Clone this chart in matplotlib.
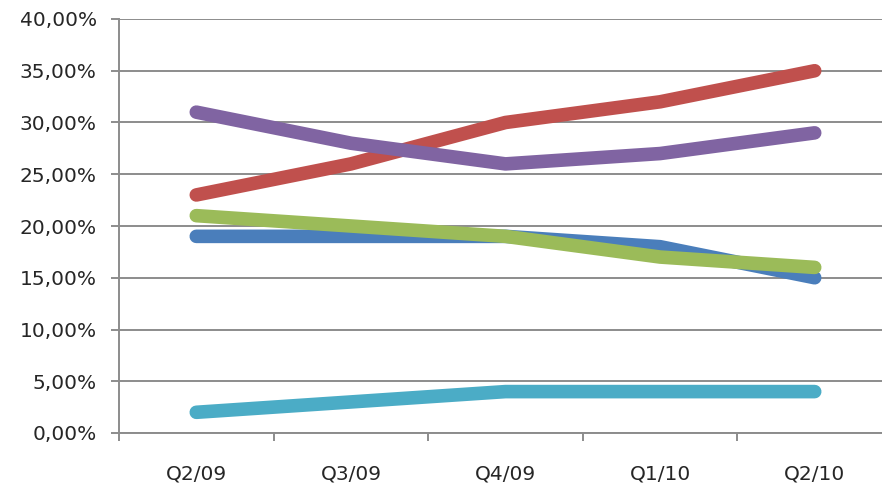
import numpy as np
import matplotlib
matplotlib.use("Agg")
import matplotlib.pyplot as plt
from matplotlib.ticker import FixedLocator, FuncFormatter

# quarters and series values (share, %)
quarters = ["Q2/09", "Q3/09", "Q4/09", "Q1/10", "Q2/10"]
blue = [19, 19, 19, 18, 15]
red = [23, 26, 30, 32, 35]
green = [21, 20, 19, 17, 16]
purple = [31, 28, 26, 27, 29]
cyan = [2, 3, 4, 4, 4]

series = [
    (blue, "#4a7ebb"),
    (red, "#c0504d"),
    (green, "#9bbb59"),
    (purple, "#8064a2"),
    (cyan, "#4bacc6"),
]

W, H = 882, 487
fig = plt.figure(figsize=(W / 100, H / 100), dpi=100)
ax = fig.add_axes([119 / W, (H - 433) / H, 773 / W, 414 / H])

xx = np.arange(len(quarters))
for vals, col in series:
    ax.plot(xx, np.array(vals) / 100, color=col, lw=9.8,
            solid_capstyle="round", solid_joinstyle="round", zorder=3)

gray = "#8c8c8c"
ax.set_xlim(-0.5, len(quarters) - 0.5)
ax.set_ylim(0, 0.40)
ax.set_yticks(np.arange(0, 0.401, 0.05))
ax.yaxis.set_major_formatter(FuncFormatter(lambda v, p: f"{v*100:.2f}%".replace(".", ",")))
ax.grid(axis="y", color=gray, lw=1.4, zorder=1)

# tick marks between categories, labels at category centres
ax.xaxis.set_major_locator(FixedLocator(np.arange(-0.5, len(quarters), 1.0)))
ax.xaxis.set_major_formatter(FuncFormatter(lambda v, p: ""))
ax.xaxis.set_minor_locator(FixedLocator(xx))
ax.set_xticklabels(quarters, minor=True)
ax.tick_params(axis="x", which="minor", length=0, pad=23, labelsize=14.5, labelcolor="#262626")
ax.tick_params(axis="x", which="major", length=6, width=1.4, color=gray, direction="out")
ax.tick_params(axis="y", length=6, width=1.4, color=gray, pad=10, labelsize=14.5, labelcolor="#262626")

for s in ["top", "right"]:
    ax.spines[s].set_visible(False)
for s in ["left", "bottom"]:
    ax.spines[s].set_color(gray)
    ax.spines[s].set_linewidth(1.4)

fig.savefig("out.png", dpi=100)
